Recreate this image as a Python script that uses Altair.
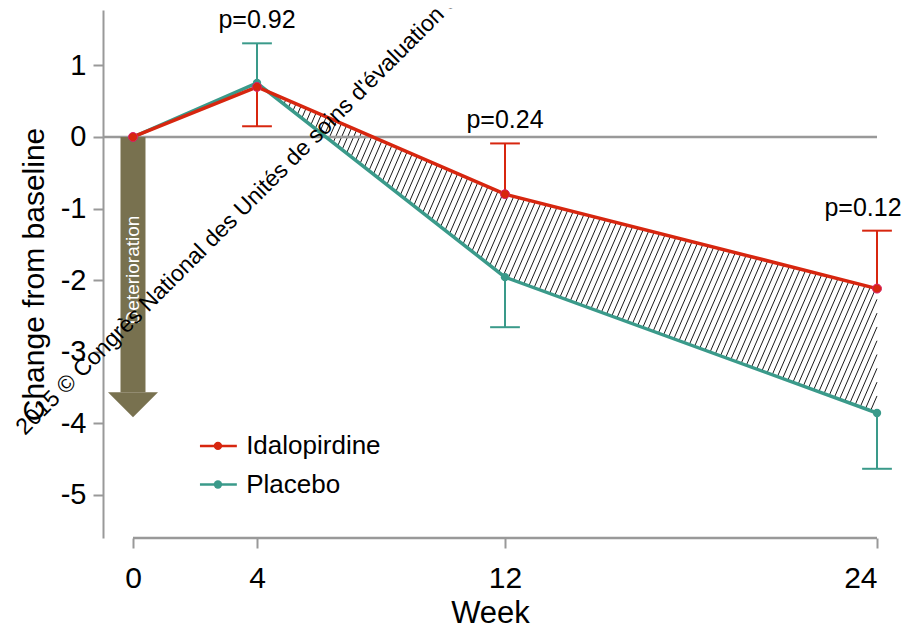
import altair as alt
import pandas as pd
import numpy as np

# ---- data ----
weeks = [0, 4, 12, 24]
idalopirdine = [0.0, 0.70, -0.80, -2.12]
placebo = [0.0, 0.755, -1.96, -3.86]
# one-sided error bar ends (None = no bar)
idalopirdine_err = [None, 0.15, -0.09, -1.31]
placebo_err = [None, 1.31, -2.66, -4.64]
p_weeks = [4, 12, 24]
p_labels = ["p=0.92", "p=0.24", "p=0.12"]
series_names = ["Idalopirdine", "Placebo"]
series_colors = ["#d7260f", "#3a9a8a"]
x_ticks = [0, 4, 12, 24]
y_ticks = [-5, -4, -3, -2, -1, 0, 1]
arrow_label = "Deterioration"
watermark = "2015 © Congrès National des Unités de soins d'évaluation et de recherche"

# ---- layout ----
PLOT_W, PLOT_H = 774, 528
XMIN, XMAX = -0.9677, 24
YMIN, YMAX = -5.608, 1.776
GRAY = "#999999"
FONT = "Liberation Sans"

xs = alt.Scale(domain=[XMIN, XMAX], nice=False, zero=False)
ys = alt.Scale(domain=[YMIN, YMAX], nice=False, zero=False)
x_axis = alt.Axis(title="Week", values=x_ticks, grid=False, domain=False,
                  tickColor=GRAY, tickWidth=2, tickSize=10,
                  labelFontSize=30, labelColor="black", labelPadding=15,
                  labelExpr="datum.value + ''",
                  titleFontSize=31, titleFontWeight="normal", titleColor="black",
                  titlePadding=5)
y_axis = alt.Axis(title="Change from baseline", values=y_ticks, grid=False,
                  domain=True, domainColor=GRAY, domainWidth=2,
                  tickColor=GRAY, tickWidth=2, tickSize=10,
                  labelFontSize=29, labelColor="black", labelPadding=7,
                  labelExpr="datum.value + ''",
                  titleFontSize=30, titleFontWeight="normal", titleColor="black",
                  titlePadding=11)


def X(field):
    return alt.X(field, type="quantitative", scale=xs, axis=x_axis)


def Y(field):
    return alt.Y(field, type="quantitative", scale=ys, axis=y_axis)


# ---- hatch between curves (placebo below idalopirdine) ----
SX = PLOT_W / (XMAX - XMIN)
SY = PLOT_H / (YMAX - YMIN)
K = 2.3        # pixel slope of hatch lines
STEP = 6.0     # pixel spacing
wg = np.linspace(0, 24, 48001)
lo = np.interp(wg, weeks, placebo)
up = np.interp(wg, weeks, idalopirdine)
diff = up - lo
w_cross = wg[np.argmax(diff > 0)]
g_lo = SX * wg - SY * lo / K
g_up = SX * wg - SY * up / K
c0 = np.interp(w_cross, wg, g_lo)
c1 = g_lo[-1]
rows = []
for c in np.arange(c0 + STEP / 2, c1, STEP):
    w1 = float(np.interp(c, g_lo, wg))
    v1 = float(np.interp(w1, weeks, placebo))
    if c <= g_up[-1]:
        w2 = float(np.interp(c, g_up, wg))
        v2 = float(np.interp(w2, weeks, idalopirdine))
    else:
        w2 = 24.0
        v2 = (SX * 24 - c) * K / SY
    rows.append({"w1": w1, "v1": v1, "w2": w2, "v2": v2})
hatch_df = pd.DataFrame(rows)

hatch = alt.Chart(hatch_df).mark_rule(color="black", strokeWidth=0.9).encode(
    x=X("w1"), y=Y("v1"), x2="w2", y2="v2")

# ---- axis lines ----
zero_df = pd.DataFrame({"a": [XMIN], "b": [XMAX], "y": [0]})
zero_line = alt.Chart(zero_df).mark_rule(color=GRAY, strokeWidth=2.5).encode(
    x=X("a"), x2="b", y=Y("y"))
xline_df = pd.DataFrame({"a": [x_ticks[0]], "b": [x_ticks[-1]], "y": [YMIN]})
x_line = alt.Chart(xline_df).mark_rule(color=GRAY, strokeWidth=2.5).encode(
    x=X("a"), x2="b", y=Y("y"))

# ---- deterioration arrow ----
ARROW_COLOR = "#78714f"
shaft_df = pd.DataFrame({"a": [-0.403], "b": [0.403], "top": [0.0], "bot": [-3.57]})
shaft = alt.Chart(shaft_df).mark_rect(color=ARROW_COLOR).encode(
    x=X("a"), x2="b", y=Y("top"), y2="bot")
head_df = pd.DataFrame({"w": [0], "v": [-3.57]})
head = alt.Chart(head_df).mark_point(
    shape="M -1 0 L 1 0 L 0 1 Z", size=2500, filled=True, opacity=1,
    color=ARROW_COLOR, strokeWidth=0).encode(x=X("w"), y=Y("v"))
arrow_txt_df = pd.DataFrame({"w": [0], "v": [-1.86], "t": [arrow_label]})
arrow_txt = alt.Chart(arrow_txt_df).mark_text(
    angle=270, color="white", fontSize=19, font=FONT, align="center",
    baseline="middle").encode(x=X("w"), y=Y("v"), text="t:N")

# ---- error bars ----
err_rows = []
for name, vals, ends in [("Placebo", placebo, placebo_err),
                         ("Idalopirdine", idalopirdine, idalopirdine_err)]:
    for w, v, e in zip(weeks, vals, ends):
        if e is not None:
            err_rows.append({"series": name, "w": w, "v": v, "e": e,
                             "cl": w - 0.48, "cr": w + 0.48})
err_df = pd.DataFrame(err_rows)
color_enc = alt.Color("series:N", scale=alt.Scale(domain=series_names, range=series_colors),
                      legend=None)
err_v = alt.Chart(err_df).mark_rule(strokeWidth=2).encode(
    x=X("w"), y=Y("v"), y2="e", color=color_enc)
err_cap = alt.Chart(err_df).mark_rule(strokeWidth=2).encode(
    x=X("cl"), x2="cr", y=Y("e"), color=color_enc)

# ---- lines and points ----
plac_df = pd.DataFrame({"w": weeks, "v": placebo, "series": "Placebo"})
ida_df = pd.DataFrame({"w": weeks, "v": idalopirdine, "series": "Idalopirdine"})
plac_line = alt.Chart(plac_df).mark_line(color=series_colors[1], strokeWidth=3.5).encode(
    x=X("w"), y=Y("v"))
plac_pts = alt.Chart(plac_df).mark_point(filled=True, size=70, opacity=1,
                                         color=series_colors[1]).encode(x=X("w"), y=Y("v"))
ida_line = alt.Chart(ida_df).mark_line(color=series_colors[0], strokeWidth=3.5).encode(
    x=X("w"), y=Y("v"))
ida_pts = alt.Chart(ida_df).mark_point(filled=True, size=80, opacity=1, color=series_colors[0],
                                       stroke="#d8206a", strokeWidth=1).encode(
    x=X("w"), y=Y("v"))

# ---- p-value labels ----
p_y = []
for w in p_weeks:
    i = weeks.index(w)
    cands = [idalopirdine[i], placebo[i]] + [e for e in (idalopirdine_err[i], placebo_err[i]) if e is not None]
    p_y.append(max(cands))
p_df = pd.DataFrame({"w": p_weeks, "v": p_y, "t": p_labels})
p_main = alt.Chart(p_df.iloc[:2]).mark_text(
    fontSize=25, font=FONT, color="black", align="center", baseline="alphabetic", dy=-15).encode(
    x=X("w"), y=Y("v"), text="t:N")
p_last = alt.Chart(p_df.iloc[2:]).mark_text(
    fontSize=25, font=FONT, color="black", align="center", baseline="alphabetic", dy=-15, dx=-14).encode(
    x=X("w"), y=Y("v"), text="t:N")

# ---- legend ----
leg_df = pd.DataFrame({"series": series_names, "a": [2.16, 2.16], "b": [3.35, 3.35],
                       "m": [2.74, 2.74], "tx": [3.65, 3.65], "v": [-4.32, -4.86]})
leg_line = alt.Chart(leg_df).mark_rule(strokeWidth=2.5).encode(
    x=X("a"), x2="b", y=Y("v"), color=color_enc)
leg_pt = alt.Chart(leg_df).mark_point(filled=True, size=70, opacity=1).encode(
    x=X("m"), y=Y("v"), color=color_enc)
leg_txt = alt.Chart(leg_df).mark_text(fontSize=26, font=FONT, color="black", align="left",
                                      baseline="middle").encode(
    x=X("tx"), y=Y("v"), text="series:N")

# ---- watermark ----
wm_df = pd.DataFrame({"w": [-3.48], "v": [-4.18], "t": [watermark]})
wm = alt.Chart(wm_df).mark_text(angle=315, fontSize=23, font=FONT, color="black",
                                align="left", baseline="alphabetic").encode(
    x=X("w"), y=Y("v"), text="t:N")

chart = alt.layer(
    hatch, zero_line, x_line, shaft, head, arrow_txt,
    err_v, err_cap, plac_line, ida_line, plac_pts, ida_pts,
    p_main, p_last, leg_line, leg_pt, leg_txt, wm
).properties(
    width=PLOT_W, height=PLOT_H,
    padding={"left": 95, "top": 2, "right": 25, "bottom": 88},
    autosize=alt.AutoSizeParams(type="none"),
    background="white",
).configure(font=FONT).configure_view(stroke=None)

chart.save("out.html", embed_options={"renderer": "svg", "actions": False})
